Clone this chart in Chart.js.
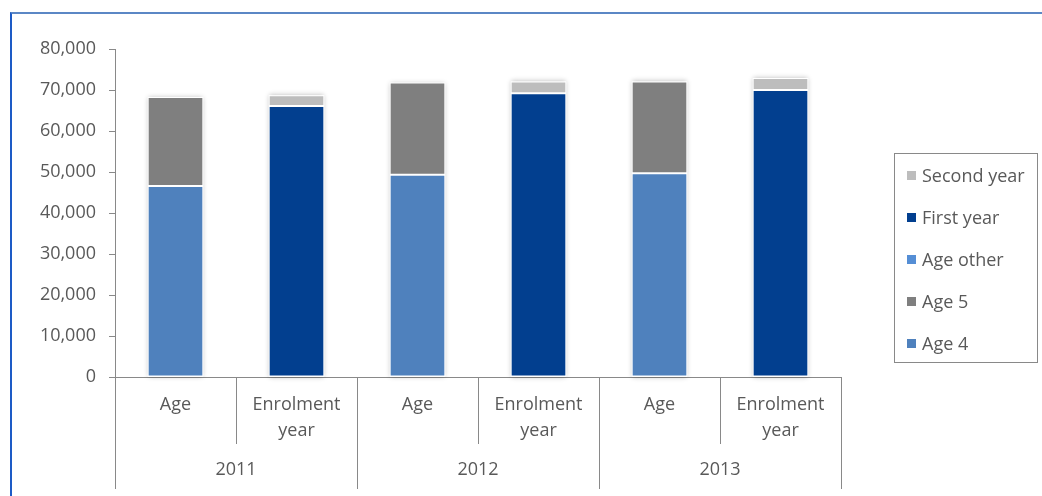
<!DOCTYPE html>
<html>
<head>
<meta charset="utf-8">
<script src="https://cdn.jsdelivr.net/npm/chart.js@4"></script>
<style>
  html, body { margin: 0; padding: 0; background: #fff; }
  #wrap { position: relative; width: 1042px; height: 496px; overflow: hidden; font-family: "Open Sans", sans-serif; }
  #frame { position: absolute; left: 10px; top: 12px; width: 1100px; height: 600px;
           border-top: 2px solid #5B87C5; border-left: 2px solid #1D5BC6; }
  #chart { position: absolute; left: 0; top: 0; }
  #legend { position: absolute; left: 894px; top: 153px; width: 144px; height: 210px;
            box-sizing: border-box; border: 1px solid #898989; background: #fff; }
  #legend ul { list-style: none; margin: 0; padding: 0; }
  #legend li { position: relative; height: 42px; line-height: 42px; padding-left: 27px;
               font-size: 18px; color: #595959; white-space: nowrap; }
  #legend li span { position: absolute; left: 12px; top: 17px; width: 9px; height: 9px; }
</style>
</head>
<body>
<div id="wrap">
  <div id="frame"></div>
  <canvas id="chart" width="1042" height="496"></canvas>
  <div id="legend"><ul></ul></div>
</div>
<script>
// Category levels along the x axis
const years = ['2011', '2012', '2013'];
const groups = ['Age', ['Enrolment', 'year']];
const categories = years.flatMap(() => groups);

// Enrolment counts per category (null where a series does not apply)
const age4       = [46600, null, 49300, null, 49700, null];
const age5       = [21700, null, 22500, null, 22400, null];
const ageOther   = [0,     null, 0,     null, 0,     null];
const firstYear  = [null, 66100, null, 69200, null, 70000];
const secondYear = [null,  2600, null,  2900, null,  2900];

// Value axis
const yTicks = [0, 10000, 20000, 30000, 40000, 50000, 60000, 70000, 80000];

const axisGrey = '#898989';
const textGrey = '#595959';
const font = { family: '"Open Sans", sans-serif', size: 18, lineHeight: 26 / 18 };

// Soft shadow behind each stacked column
const columnShadow = {
  id: 'columnShadow',
  beforeDatasetsDraw(chart) {
    const ctx = chart.ctx;
    const base = chart.scales.y.getPixelForValue(0);
    ctx.save();
    ctx.shadowColor = 'rgba(0,0,0,0.28)';
    ctx.shadowBlur = 5;
    ctx.fillStyle = '#fff';
    categories.forEach((_, i) => {
      let top = Infinity, x = null, w = 0;
      chart.data.datasets.forEach((ds, d) => {
        const el = chart.getDatasetMeta(d).data[i];
        if (ds.data[i] != null && el) {
          top = Math.min(top, el.y);
          x = el.x; w = el.width;
        }
      });
      if (x !== null) ctx.fillRect(x - w / 2, top, w, base - top);
    });
    ctx.restore();
  }
};

// Separators between the category levels below the x axis
const levelSeparators = {
  id: 'levelSeparators',
  afterDraw(chart) {
    const x = chart.scales.x, x2 = chart.scales.x2, ctx = chart.ctx;
    const top = chart.chartArea.bottom;
    const n = categories.length;
    ctx.save();
    ctx.strokeStyle = axisGrey;
    ctx.lineWidth = 1;
    for (let i = 0; i <= n; i++) {
      let px;
      if (i === 0) px = x.left;
      else if (i === n) px = x.right;
      else px = (x.getPixelForValue(i - 1) + x.getPixelForValue(i)) / 2;
      const bottom = (i % groups.length === 0) ? x2.bottom : x.bottom;
      const sx = Math.round(px) + 0.5;
      ctx.beginPath();
      ctx.moveTo(sx, top);
      ctx.lineTo(sx, bottom);
      ctx.stroke();
    }
    ctx.restore();
  }
};

const barStyle = { borderColor: '#fff', borderWidth: 1, borderSkipped: false,
                   barPercentage: 0.46, categoryPercentage: 1 };

const chart = new Chart(document.getElementById('chart'), {
  type: 'bar',
  data: {
    labels: categories,
    datasets: [
      { label: 'Age 4',       data: age4,       backgroundColor: '#4F81BD', legendColor: '#4F81BD', ...barStyle },
      { label: 'Age 5',       data: age5,       backgroundColor: '#7F7F7F', legendColor: '#7F7F7F', ...barStyle },
      { label: 'Age other',   data: ageOther,   backgroundColor: '#558ED5', legendColor: '#558ED5', ...barStyle },
      { label: 'First year',  data: firstYear,  backgroundColor: '#023F8F', legendColor: '#023F8F', ...barStyle },
      { label: 'Second year', data: secondYear, backgroundColor: '#BDBDBD', legendColor: '#BDBDBD', ...barStyle }
    ]
  },
  options: {
    responsive: false,
    animation: false,
    layout: { padding: { left: 40, top: 49, right: 201, bottom: 7 } },
    plugins: { legend: { display: false }, tooltip: { enabled: false } },
    scales: {
      x: {
        stacked: true,
        position: 'bottom',
        grid: { display: false, drawTicks: false },
        border: { display: true, color: axisGrey, width: 1 },
        ticks: { color: textGrey, font, padding: 15, maxRotation: 0, autoSkip: false },
        afterFit(s) { s.height = 67; }
      },
      x2: {
        type: 'category',
        labels: years,
        position: 'bottom',
        grid: { display: false, drawTicks: false },
        border: { display: false },
        ticks: { color: textGrey, font, padding: 13, maxRotation: 0 },
        afterFit(s) { s.height = 45; }
      },
      y: {
        stacked: true,
        min: yTicks[0],
        max: yTicks[yTicks.length - 1],
        afterBuildTicks(s) { s.ticks = yTicks.map(v => ({ value: v })); },
        grid: { drawOnChartArea: false, drawTicks: true, tickLength: 6, color: axisGrey },
        border: { display: true, color: axisGrey, width: 1 },
        ticks: { color: textGrey, font, padding: 13, callback: v => v.toLocaleString('en-US') },
        afterFit(s) { s.width = 75; }
      }
    }
  },
  plugins: [columnShadow, levelSeparators]
});

// Legend listing the series from the top of the stack down
const list = document.querySelector('#legend ul');
chart.data.datasets.slice().reverse().forEach(ds => {
  const li = document.createElement('li');
  const sw = document.createElement('span');
  sw.style.background = ds.legendColor;
  li.appendChild(sw);
  li.appendChild(document.createTextNode(ds.label));
  list.appendChild(li);
});
</script>
</body>
</html>
